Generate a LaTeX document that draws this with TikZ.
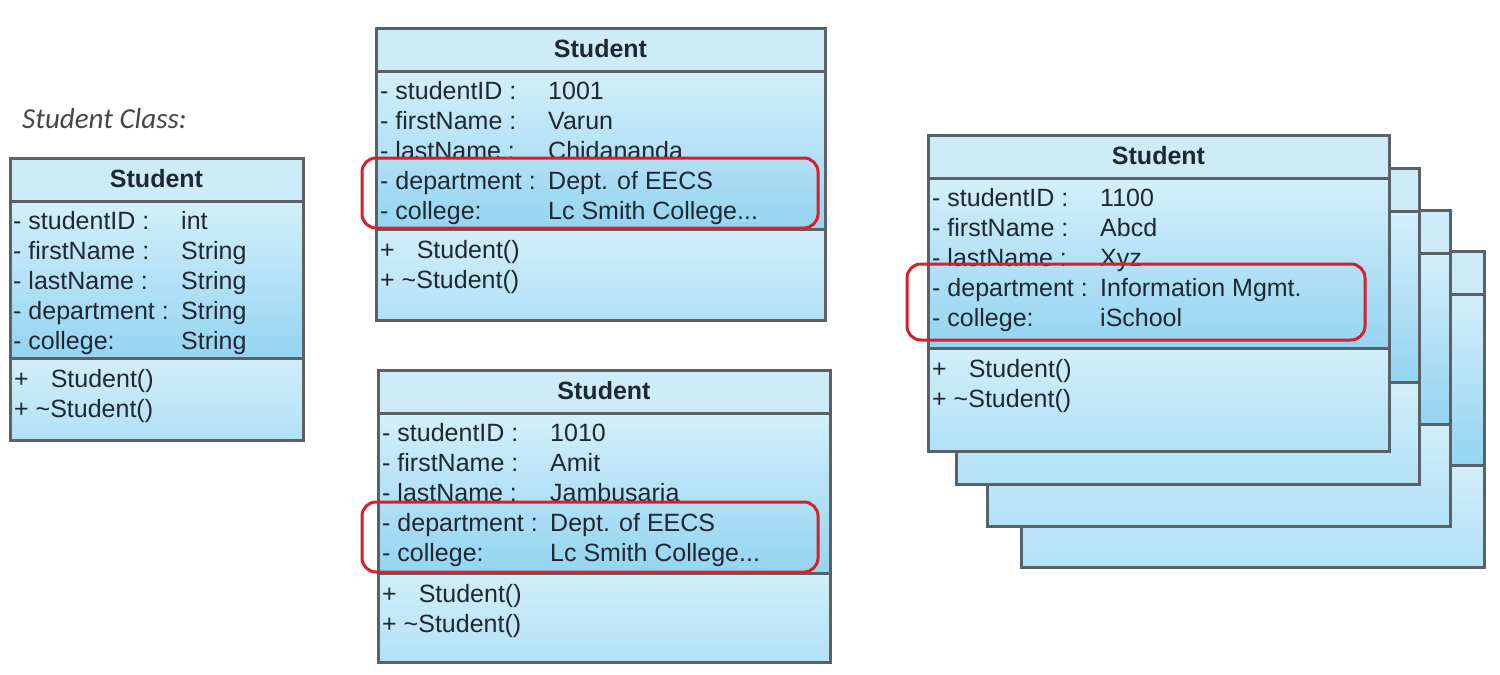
\documentclass[tikz,border=0pt]{standalone}
\usepackage{fontspec}
\setmainfont{Liberation Sans}
\newfontfamily\notefont{Carlito}
\usetikzlibrary{calc,positioning,fit}

\definecolor{umlline}{RGB}{88,98,104}
\definecolor{umltext}{RGB}{30,40,50}
\definecolor{notegray}{RGB}{70,70,70}
\definecolor{headfill}{RGB}{205,235,249}
\definecolor{attrtop}{RGB}{212,239,251}
\definecolor{attrbot}{RGB}{148,212,241}
\definecolor{methtop}{RGB}{210,238,250}
\definecolor{methbot}{RGB}{178,225,246}
\definecolor{markred}{RGB}{214,32,42}

\newcommand{\cutoff}{...}
% frame of a class: name, x, y, width, height, height of attribute part
\newcommand{\classframe}[6]{%
  \fill[headfill] (#2,#3) rectangle ++(#4,43);
  \shade[top color=attrtop, bottom color=attrbot] (#2,#3+43) rectangle ++(#4,#6);
  \shade[top color=methtop, bottom color=methbot] (#2,#3+43+#6) rectangle (#2+#4,#3+#5);
  \draw[frameline] (#2,#3+43) -- ++(#4,0) (#2,#3+43+#6) -- ++(#4,0);
  \node[frame, minimum width=#4pt, minimum height=#5pt, anchor=north west] (#1) at (#2,#3) {};
}
% title and methods: name, x, y, width, height of attribute part
\newcommand{\classtext}[5]{%
  \node[title] (#1-head) at (#2+#4/2,#3+29) {Student};
  \node[row] (#1-m1) at (#2+4,#3+72+#5) {+\hspace{22pt}Student()};
  \node[row] (#1-m2) at (#2+4,#3+102+#5) {+ \textasciitilde Student()};
}

\begin{document}
\begin{tikzpicture}[
  x=1pt, y=-1pt,
  frameline/.style={draw=umlline, line width=3pt},
  frame/.style={frameline, inner sep=0pt, outer sep=0pt},
  title/.style={anchor=base, inner sep=0pt, text=umltext, font=\bfseries\fontsize{25}{30}\selectfont},
  row/.style={anchor=base west, inner sep=0pt, text=umltext, font=\fontsize{25}{30}\selectfont},
  note/.style={anchor=base west, inner sep=0pt, text=notegray, font=\notefont\itshape\fontsize{29}{34}\selectfont},
  hilite/.style={draw=markred, line width=3pt, rounded corners=14pt, inner sep=0pt}
]
\useasboundingbox (0,0) rectangle (1500,675);

\node[note] (caption) at (22,128) {Student Class:};

% the class
\classframe{L}{10}{158}{293}{282}{157}
\classtext{L}{10}{158}{293}{157}
\foreach \nm/\val [count=\i] in {studentID :/int, firstName :/String, lastName :/String, department :/String, college:/String} {
  \node[row] (L-n\i) at (13,{199+30*\i}) {- \nm};
  \node[row] (L-v\i) at (181,{199+30*\i}) {\val};
}

% first object
\classframe{T}{376}{28}{449}{292}{158}
\classtext{T}{376}{28}{449}{158}
\foreach \nm/\val [count=\i] in {studentID :/1001, firstName :/Varun, lastName :/Chidananda, department :/Dept. of EECS, college:/Lc Smith College\cutoff} {
  \node[row] (T-n\i) at (380,{69+30*\i}) {- \nm};
  \node[row] (T-v\i) at (548,{69+30*\i}) {\val};
}
\node[hilite, fit={(362,158) (818,228)}] (T-mark) {};

% second object
\classframe{B}{378}{370}{452}{292}{160}
\classtext{B}{378}{370}{452}{160}
\foreach \nm/\val [count=\i] in {studentID :/1010, firstName :/Amit, lastName :/Jambusaria, department :/Dept. of EECS, college:/Lc Smith College\cutoff} {
  \node[row] (B-n\i) at (382,{411+30*\i}) {- \nm};
  \node[row] (B-v\i) at (550,{411+30*\i}) {\val};
}
\node[hilite, fit={(362,502) (818,572)}] (B-mark) {};

% many objects
\foreach \k/\x/\y in {4/1021/251, 3/987/210, 2/956/168} {
  \classframe{R\k}{\x}{\y}{463}{316}{171}
}
\classframe{R1}{928}{135}{461}{316}{170}
\classtext{R1}{928}{135}{461}{170}
\foreach \nm/\val [count=\i] in {studentID :/1100, firstName :/Abcd, lastName :/Xyz, department :/Information Mgmt., college:/iSchool} {
  \node[row] (R1-n\i) at (932,{176+30*\i}) {- \nm};
  \node[row] (R1-v\i) at (1100,{176+30*\i}) {\val};
}
\node[hilite, fit={(907,264) (1365,340)}] (R1-mark) {};
\end{tikzpicture}
\end{document}
